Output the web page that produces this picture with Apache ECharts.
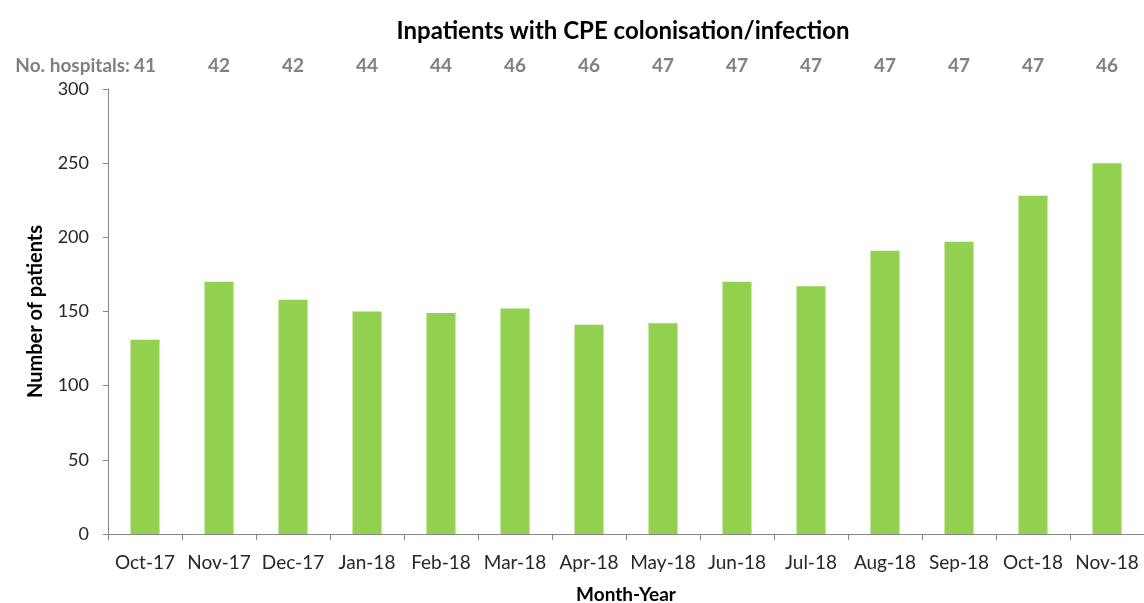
<!DOCTYPE html>
<html>
<head>
<meta charset="utf-8">
<script src="https://cdn.jsdelivr.net/npm/echarts@6/dist/echarts.min.js"></script>
<style>
  html, body { margin: 0; padding: 0; background: #fff; }
  #chart { width: 1144px; height: 603px; }
</style>
</head>
<body>
<div id="chart"></div>
<script>
var months = ['Oct-17', 'Nov-17', 'Dec-17', 'Jan-18', 'Feb-18', 'Mar-18', 'Apr-18',
              'May-18', 'Jun-18', 'Jul-18', 'Aug-18', 'Sep-18', 'Oct-18', 'Nov-18'];
var patients = [131, 170, 158, 150, 149, 152, 141, 142, 170, 167, 191, 197, 228, 250];
var hospitals = [41, 42, 42, 44, 44, 46, 46, 47, 47, 47, 47, 47, 47, 46];

var font = 'Lato, "Open Sans", sans-serif';
var chart = echarts.init(document.getElementById('chart'));

chart.setOption({
    animation: false,
    backgroundColor: '#ffffff',
    title: {
        text: 'Inpatients with CPE colonisation/infection',
        left: 618,
        top: 14,
        textAlign: 'center',
        textStyle: { fontFamily: font, fontSize: 24, fontWeight: 'bold', color: '#000' }
    },
    graphic: [{
        type: 'text',
        x: 130,
        y: 66,
        style: {
            text: 'No. hospitals:',
            font: 'bold 19px ' + font,
            fill: '#808080',
            align: 'right',
            verticalAlign: 'middle'
        }
    }],
    grid: { left: 108, top: 89, width: 1036, height: 445, containLabel: false, outerBoundsMode: 'none' },
    xAxis: [{
        type: 'category',
        data: months,
        name: 'Month-Year',
        nameLocation: 'middle',
        nameGap: 51,
        nameTextStyle: { fontFamily: font, fontSize: 19, fontWeight: 'bold', color: '#000' },
        axisLine: { lineStyle: { color: '#868686', width: 1 } },
        axisTick: { show: true, length: 6, lineStyle: { color: '#868686' } },
        axisLabel: { interval: 0, margin: 19, fontFamily: font, fontSize: 19, color: '#262626' }
    }, {
        type: 'category',
        position: 'top',
        data: hospitals,
        axisLine: { show: false },
        axisTick: { show: false },
        axisLabel: { interval: 0, margin: 14, fontFamily: font, fontSize: 19, fontWeight: 'bold', color: '#808080' }
    }],
    yAxis: {
        type: 'value',
        min: 0,
        max: 300,
        interval: 50,
        name: 'Number of patients',
        nameLocation: 'middle',
        nameGap: 62,
        nameTextStyle: { fontFamily: font, fontSize: 20, fontWeight: 'bold', color: '#000' },
        splitLine: { show: false },
        axisLine: { show: true, lineStyle: { color: '#868686', width: 1 } },
        axisTick: { show: true, length: 5, lineStyle: { color: '#868686' } },
        axisLabel: { margin: 19, fontFamily: font, fontSize: 18, color: '#262626' }
    },
    series: [{
        type: 'bar',
        data: patients,
        barWidth: 29,
        itemStyle: { color: '#92D050' }
    }]
});
</script>
</body>
</html>
